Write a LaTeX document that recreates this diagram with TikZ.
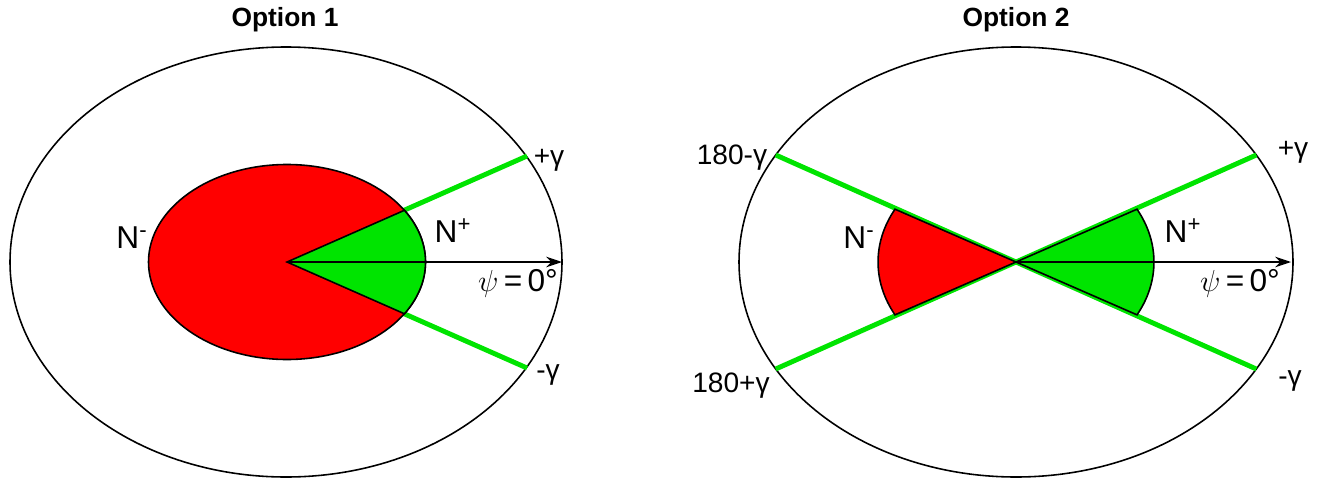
\documentclass[tikz,border=0pt]{standalone}
\usepackage{amsmath, amssymb}
\usepackage{xcolor}
\usepackage{fontspec}
\setmainfont{Liberation Sans}
\usepackage{tikz}
\usetikzlibrary{arrows.meta}
\definecolor{sectred}{RGB}{255,0,0}
\definecolor{sectgreen}{RGB}{0,228,0}

\begin{document}
\begin{tikzpicture}[x=0.02cm, y=0.02cm,
    outline/.style={line width=0.9pt},
    gline/.style={line width=2.8pt, sectgreen},
    zeroline/.style={line width=0.9pt, -{Stealth[length=9pt, width=6pt]}},
    lbl/.style={font=\fontsize{16}{18}\selectfont, inner sep=0pt},
    nlbl/.style={font=\fontsize{18}{20}\selectfont, inner sep=0pt},
    ttl/.style={font=\fontsize{15}{18}\selectfont\bfseries, inner sep=0pt}]
    \useasboundingbox (0,0) rectangle (1325,478);
    % Option 1
    \coordinate (c1) at (287,216);
    \draw[outline] (286,216) ellipse [x radius=276, y radius=215];
    \foreach \p in {(527,322), (527,110)} \draw[gline] (c1) -- \p;
    \filldraw[outline, fill=sectred] (c1) ellipse [x radius=138.5, y radius=97.5];
    \filldraw[outline, fill=sectgreen] (c1) -- ++(117.4,51.7)
        arc[start angle=32.05, end angle=-32.05, x radius=138.5, y radius=97.5] -- cycle;
    \draw[zeroline] (c1) -- (562,216);
    \node[ttl] (title1) at (285,458) {Option 1};
    \node[lbl] (plus1) at (549,318) {+γ};
    \node[lbl] (minus1) at (548,103) {-γ};
    \node[nlbl] (nneg1) at (132,240) {N\textsuperscript{-}};
    \node[nlbl] (npos1) at (453,247) {N\textsuperscript{+}};
    \node[nlbl] (psi1) at (518,195) {$\psi$\,=\,0°};
    % Option 2
    \coordinate (c2) at (1016,216);
    \draw[outline] (1016,216) ellipse [x radius=277, y radius=215];
    \draw[gline] (775.7,323) -- (c2) -- (1256.3,109);
    \draw[gline] (775.7,109) -- (c2) -- (1256.3,323);
    \filldraw[outline, fill=sectgreen] (c2) -- ++(121,52.8)
        arc[start angle=28.7, end angle=-28.7, x radius=138, y radius=110] -- cycle;
    \filldraw[outline, fill=sectred] (c2) -- ++(-121,52.8)
        arc[start angle=151.3, end angle=208.7, x radius=138, y radius=110] -- cycle;
    \draw[zeroline] (c2) -- (1291,216);
    \node[ttl] (title2) at (1016,458) {Option 2};
    \node[lbl] (plus2) at (1293,326) {+γ};
    \node[lbl] (minus2) at (1290,97) {-γ};
    \node[lbl] (lo2) at (732,320) {180-γ};
    \node[lbl] (hi2) at (731,92) {180+γ};
    \node[nlbl] (nneg2) at (859,240) {N\textsuperscript{-}};
    \node[nlbl] (npos2) at (1183,247) {N\textsuperscript{+}};
    \node[nlbl] (psi2) at (1240,195) {$\psi$\,=\,0°};
\end{tikzpicture}
\end{document}
